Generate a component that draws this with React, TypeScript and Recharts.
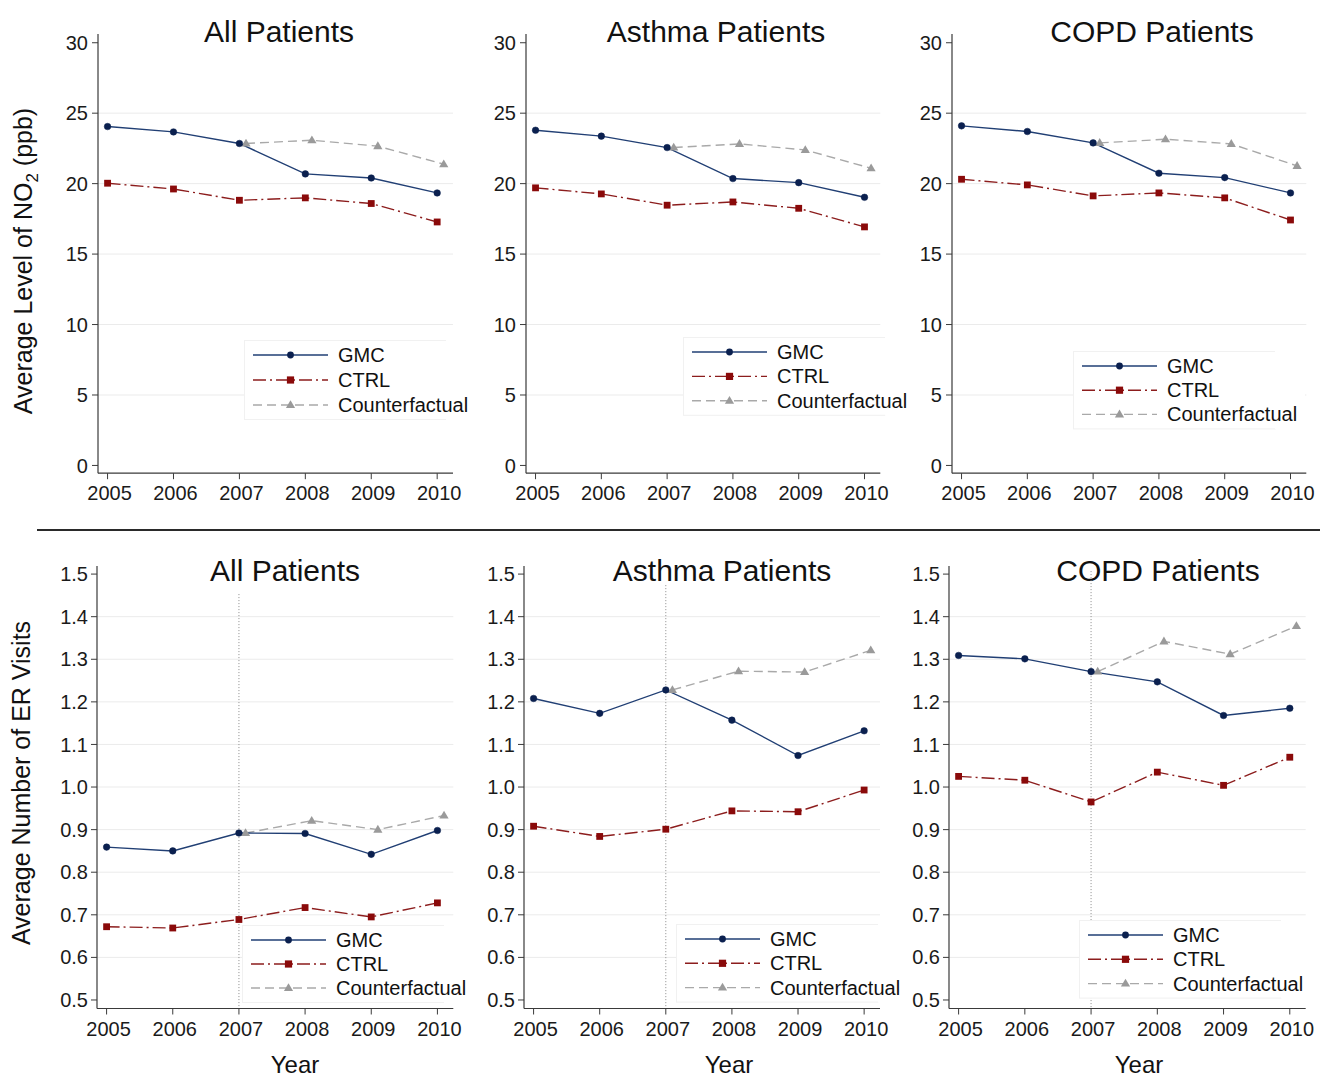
import React from 'react';
import { LineChart, Line, XAxis, YAxis, CartesianGrid, ReferenceLine, Legend } from 'recharts';

// ---------- data ----------
const YEARS = [2005, 2006, 2007, 2008, 2009, 2010];
const CF_YEARS = [2007, 2008, 2009, 2010];
const CF_SHIFT = 0.1; // counterfactual markers are drawn slightly right of the year

const SERIES_NAMES = ['GMC', 'CTRL', 'Counterfactual'];
const PANEL_TITLES = ['All Patients', 'Asthma Patients', 'COPD Patients'];

const NO2_TICKS = [0, 5, 10, 15, 20, 25, 30];
const NO2_GRID = [5, 10, 15, 20, 25];
const ER_TICKS = [0.5, 0.6, 0.7, 0.8, 0.9, 1.0, 1.1, 1.2, 1.3, 1.4, 1.5];
const ER_GRID = [0.6, 0.7, 0.8, 0.9, 1.0, 1.1, 1.2, 1.3, 1.4];

const no2AllGMC = [24.05, 23.67, 22.85, 20.69, 20.4, 19.34];
const no2AllCTRL = [20.03, 19.62, 18.82, 18.99, 18.59, 17.28];
const no2AllCF = [22.85, 23.08, 22.66, 21.38];

const no2AsthmaGMC = [23.79, 23.37, 22.56, 20.36, 20.07, 19.03];
const no2AsthmaCTRL = [19.7, 19.27, 18.47, 18.7, 18.25, 16.93];
const no2AsthmaCF = [22.56, 22.82, 22.39, 21.09];

const no2CopdGMC = [24.1, 23.7, 22.89, 20.74, 20.43, 19.34];
const no2CopdCTRL = [20.31, 19.91, 19.13, 19.34, 18.99, 17.42];
const no2CopdCF = [22.89, 23.15, 22.82, 21.26];

const erAllGMC = [0.859, 0.85, 0.892, 0.891, 0.842, 0.898];
const erAllCTRL = [0.672, 0.669, 0.689, 0.717, 0.695, 0.728];
const erAllCF = [0.892, 0.921, 0.9, 0.933];

const erAsthmaGMC = [1.208, 1.173, 1.228, 1.157, 1.074, 1.132];
const erAsthmaCTRL = [0.908, 0.884, 0.901, 0.944, 0.942, 0.993];
const erAsthmaCF = [1.228, 1.272, 1.27, 1.321];

const erCopdGMC = [1.309, 1.301, 1.271, 1.247, 1.168, 1.185];
const erCopdCTRL = [1.025, 1.016, 0.965, 1.035, 1.004, 1.07];
const erCopdCF = [1.271, 1.342, 1.312, 1.378];

// ---------- styles ----------
const FONT = '"Liberation Sans", Arial, Helvetica, sans-serif';
const GMC_LINE = '#213f74';
const GMC_DOT = '#0b204f';
const CTRL_LINE = '#8c1d1d';
const CTRL_DOT = '#8a0a0a';
const CF_LINE = '#a9a9a9';
const CF_DOT = '#9a9a9a';
const CTRL_DASH = '13 4 2 4';
const CF_DASH = '9 5';
const AXIS = '#3a3a3a';
const TICK_TEXT = '#1a1a1a';

const PAD_L = 90;
const PAD_R = 30;
const PAD_T = 30;
const PAD_B = 45;
const Y_AXIS_W = 60;
const X_AXIS_H = 30;

const toRows = (xs: number[], ys: number[], shift = 0) => xs.map((x, i) => ({ x: x + shift, v: ys[i] }));

const squareDot = (props: any) => {
  const { cx, cy, index } = props;
  if (cx == null || cy == null) return <g key={'s' + index} />;
  return <rect key={'s' + index} x={cx - 3.4} y={cy - 3.4} width={6.8} height={6.8} fill={CTRL_DOT} />;
};
const triDot = (props: any) => {
  const { cx, cy, index } = props;
  if (cx == null || cy == null) return <g key={'t' + index} />;
  return <path key={'t' + index} d={`M${cx},${cy - 4.8} L${cx + 4.6},${cy + 3} L${cx - 4.6},${cy + 3} Z`} fill={CF_DOT} />;
};

type Legendcfg = { x0: number; y0: number; gap: number };

function LegendGraphic({ gap }: { gap: number }) {
  const w = 232;
  const h = 30 + 2 * gap;
  const rows = [15, 15 + gap, 15 + 2 * gap];
  const lx0 = 9;
  const lx1 = 84;
  const mx = 46.5;
  const tx = 94;
  return (
    <svg width={w} height={h} style={{ display: 'block', overflow: 'visible' }}>
      <rect x={0.5} y={0.5} width={w - 30} height={h - 1} fill="#fff" stroke="#f1f1f1" />
      <rect x={w - 30} y={0} width={30} height={h} fill="#fff" />
      <line x1={lx0} x2={lx1} y1={rows[0]} y2={rows[0]} stroke={GMC_LINE} strokeWidth={1.4} />
      <circle cx={mx} cy={rows[0]} r={3.4} fill={GMC_DOT} />
      <line x1={lx0} x2={lx1} y1={rows[1]} y2={rows[1]} stroke={CTRL_LINE} strokeWidth={1.4} strokeDasharray={CTRL_DASH} />
      <rect x={mx - 3.6} y={rows[1] - 3.6} width={7.2} height={7.2} fill={CTRL_DOT} />
      <line x1={lx0} x2={lx1} y1={rows[2]} y2={rows[2]} stroke={CF_LINE} strokeWidth={1.4} strokeDasharray={CF_DASH} />
      <path d={`M${mx},${rows[2] - 4.8} L${mx + 4.6},${rows[2] + 3} L${mx - 4.6},${rows[2] + 3} Z`} fill={CF_DOT} />
      {SERIES_NAMES.map((n, i) => (
        <text key={n} x={tx} y={rows[i] + 7} fontSize={20} fontFamily={FONT} fill="#111">
          {n}
        </text>
      ))}
    </svg>
  );
}

type PanelProps = {
  gmc: number[];
  ctrl: number[];
  cf: number[];
  l: number;
  r: number;
  t: number;
  b: number;
  yDomain: [number, number];
  yTicks: number[];
  yGrid: number[];
  fmt: (v: number) => string;
  yTickMargin: number;
  xTickMargin: number;
  legend: Legendcfg;
  refTop?: number;
};

function Panel(p: PanelProps) {
  const boxLeft = p.l - PAD_L;
  const boxTop = p.t - PAD_T;
  const boxW = p.r + PAD_R - boxLeft;
  const boxH = p.b + PAD_B - boxTop;
  const gmcData = toRows(YEARS, p.gmc);
  const ctrlData = toRows(YEARS, p.ctrl);
  const cfData = toRows(CF_YEARS, p.cf, CF_SHIFT);
  const lg = p.legend;
  const legH = 30 + 2 * lg.gap;
  return (
    <div style={{ position: 'absolute', left: boxLeft, top: boxTop }}>
      <LineChart
        width={boxW}
        height={boxH}
        margin={{ left: PAD_L - Y_AXIS_W, right: PAD_R, top: PAD_T, bottom: PAD_B - X_AXIS_H }}
      >
        <CartesianGrid vertical={false} horizontalValues={p.yGrid} stroke="#ebebeb" strokeWidth={1} />
        <XAxis
          type="number"
          dataKey="x"
          domain={[2004.855, 2010.24]}
          allowDataOverflow
          ticks={YEARS}
          tickFormatter={(v: number) => String(v)}
          height={X_AXIS_H}
          axisLine={{ stroke: AXIS, strokeWidth: 1.2 }}
          tickLine={{ stroke: AXIS, strokeWidth: 1 }}
          tickSize={6}
          tickMargin={p.xTickMargin}
          tick={{ fontSize: 20, fill: TICK_TEXT, fontFamily: FONT, dx: 2 }}
          interval={0}
        />
        <YAxis
          type="number"
          domain={p.yDomain}
          allowDataOverflow
          ticks={p.yTicks}
          tickFormatter={p.fmt}
          width={Y_AXIS_W}
          axisLine={{ stroke: AXIS, strokeWidth: 1.2 }}
          tickLine={{ stroke: AXIS, strokeWidth: 1 }}
          tickSize={6}
          tickMargin={p.yTickMargin}
          tick={{ fontSize: 20, fill: TICK_TEXT, fontFamily: FONT }}
          interval={0}
        />
        {p.refTop !== undefined && (
          <ReferenceLine
            segment={[
              { x: 2007, y: p.refTop },
              { x: 2007, y: p.yDomain[0] },
            ]}
            stroke="#8a8a8a"
            strokeWidth={1}
            strokeDasharray="1 2"
          />
        )}
        <Line
          data={cfData}
          dataKey="v"
          name={SERIES_NAMES[2]}
          stroke={CF_LINE}
          strokeWidth={1.4}
          strokeDasharray={CF_DASH}
          dot={triDot}
          activeDot={false}
          isAnimationActive={false}
        />
        <Line
          data={ctrlData}
          dataKey="v"
          name={SERIES_NAMES[1]}
          stroke={CTRL_LINE}
          strokeWidth={1.4}
          strokeDasharray={CTRL_DASH}
          dot={squareDot}
          activeDot={false}
          isAnimationActive={false}
        />
        <Line
          data={gmcData}
          dataKey="v"
          name={SERIES_NAMES[0]}
          stroke={GMC_LINE}
          strokeWidth={1.4}
          dot={{ r: 3.3, fill: GMC_DOT, stroke: GMC_DOT, strokeWidth: 0.5 }}
          activeDot={false}
          isAnimationActive={false}
        />
        <Legend
          layout="horizontal"
          verticalAlign="middle"
          align="center"
          wrapperStyle={{ left: lg.x0 - 9 - boxLeft, top: lg.y0 - 15 - boxTop, width: 232, height: legH, margin: 0, padding: 0 }}
          content={() => <LegendGraphic gap={lg.gap} />}
        />
      </LineChart>
    </div>
  );
}

const fmtInt = (v: number) => String(v);
const fmt1 = (v: number) => v.toFixed(1);

const NO2_DOMAIN: [number, number] = [-0.55, 30.62];
const ER_DOMAIN: [number, number] = [0.48, 1.519];

export default function App() {
  const top = { t: 33.5, b: 472.7, yDomain: NO2_DOMAIN, yTicks: NO2_TICKS, yGrid: NO2_GRID, fmt: fmtInt, yTickMargin: 4, xTickMargin: 7 };
  const bot = { t: 566, b: 1008.5, yDomain: ER_DOMAIN, yTicks: ER_TICKS, yGrid: ER_GRID, fmt: fmt1, yTickMargin: 3, xTickMargin: 7.3 };
  return (
    <div
      style={{
        position: 'absolute',
        left: 0,
        top: 0,
        width: 1320,
        height: 1078,
        background: '#fff',
        overflow: 'hidden',
        fontFamily: FONT,
      }}
    >
      <svg width={1320} height={1078} style={{ position: 'absolute', left: 0, top: 0 }}>
        <line x1={37} x2={1320} y1={530} y2={530} stroke="#2a2a2a" strokeWidth={1.8} />
        {[279, 716, 1152].map((cx, i) => (
          <text key={'tt' + i} x={cx} y={41.7} textAnchor="middle" fontSize={30} fontFamily={FONT} fill="#111">
            {PANEL_TITLES[i]}
          </text>
        ))}
        {[285, 722, 1158].map((cx, i) => (
          <text key={'bt' + i} x={cx} y={581} textAnchor="middle" fontSize={30} fontFamily={FONT} fill="#111">
            {PANEL_TITLES[i]}
          </text>
        ))}
        <text x={0} y={0} transform="translate(32 261) rotate(-90)" textAnchor="middle" fontSize={25} fontFamily={FONT} fill="#111">
          <tspan>Average Level of NO</tspan>
          <tspan fontSize={17} dy={6}>2</tspan>
          <tspan dy={-6}> (ppb)</tspan>
        </text>
        <text x={0} y={0} transform="translate(30 783) rotate(-90)" textAnchor="middle" fontSize={25} fontFamily={FONT} fill="#111">
          Average Number of ER Visits
        </text>
        {[295, 729, 1139].map((cx, i) => (
          <text key={'yr' + i} x={cx} y={1073.3} textAnchor="middle" fontSize={24} fontFamily={FONT} fill="#111">
            Year
          </text>
        ))}
      </svg>

      <Panel {...top} l={98} r={453} gmc={no2AllGMC} ctrl={no2AllCTRL} cf={no2AllCF} legend={{ x0: 253.3, y0: 355, gap: 25 }} />
      <Panel {...top} l={525.7} r={880} gmc={no2AsthmaGMC} ctrl={no2AsthmaCTRL} cf={no2AsthmaCF} legend={{ x0: 691.7, y0: 352.3, gap: 24.4 }} />
      <Panel {...top} l={951.7} r={1306} gmc={no2CopdGMC} ctrl={no2CopdCTRL} cf={no2CopdCF} legend={{ x0: 1081.7, y0: 366, gap: 24.2 }} />

      <Panel {...bot} l={96.7} r={453} gmc={erAllGMC} ctrl={erAllCTRL} cf={erAllCF} legend={{ x0: 251, y0: 940, gap: 24 }} refTop={1.453} />
      <Panel {...bot} l={524} r={880} gmc={erAsthmaGMC} ctrl={erAsthmaCTRL} cf={erAsthmaCF} legend={{ x0: 685, y0: 939, gap: 24.3 }} refTop={1.474} />
      <Panel {...bot} l={949.3} r={1306} gmc={erCopdGMC} ctrl={erCopdCTRL} cf={erCopdCF} legend={{ x0: 1087.7, y0: 935, gap: 24.3 }} refTop={1.507} />
    </div>
  );
}
